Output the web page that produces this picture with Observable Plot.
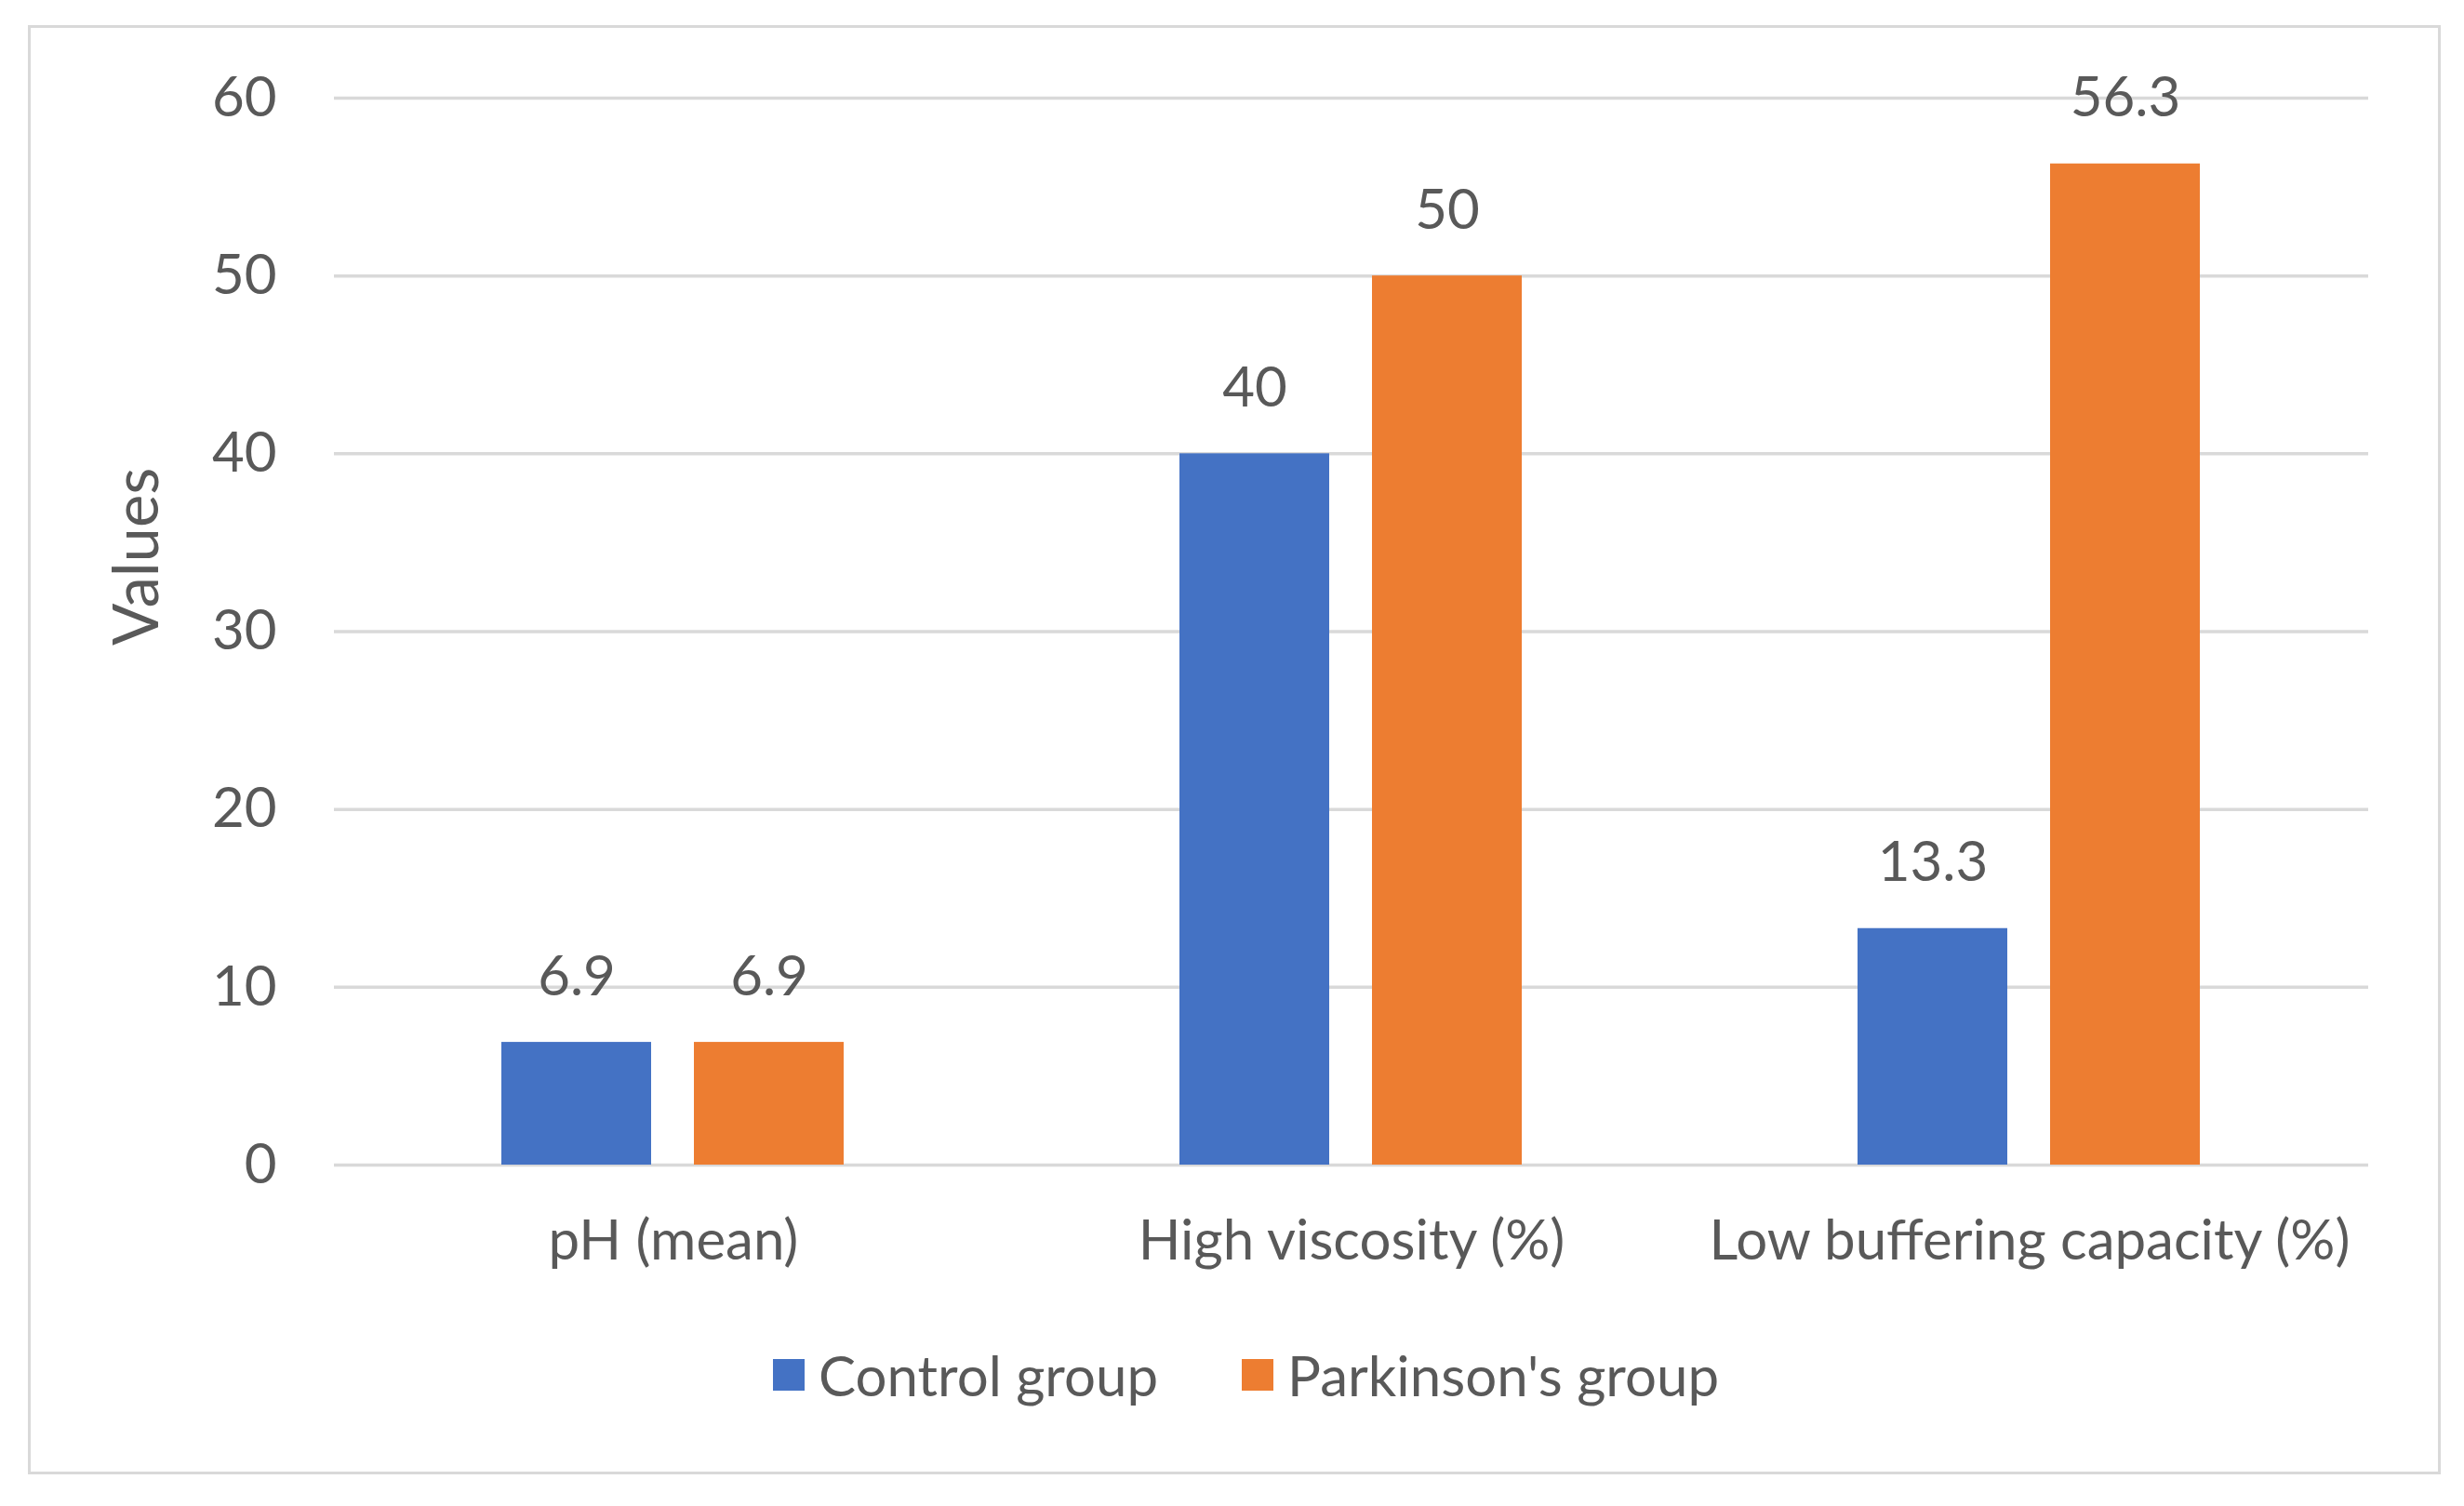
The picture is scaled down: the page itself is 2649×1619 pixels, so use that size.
<!DOCTYPE html>
<html>
<head>
<meta charset="utf-8">
<script src="https://cdn.jsdelivr.net/npm/d3@7"></script>
<script src="https://cdn.jsdelivr.net/npm/@observablehq/plot@0.6"></script>
<style>
  html, body { margin: 0; padding: 0; background: #ffffff; }
  body { font-family: Lato, "Open Sans", sans-serif; color: #595959; }
  #wrap { position: relative; width: 2649px; height: 1619px; }
  #frame { position: absolute; left: 30px; top: 27px; width: 2594px; height: 1558px;
           box-sizing: border-box; border: 3px solid #d9d9d9; pointer-events: none; }
  #chart svg { display: block; }
  #legend { display: flex; justify-content: center; align-items: center; height: 60px;
            margin-top: 48px; font-size: 60px; padding-left: 30px; }
  .item { display: flex; align-items: center; }
  .sw { width: 34px; height: 34px; margin-right: 15px; }
  .gap { width: 90px; }
</style>
</head>
<body>
<div id="wrap">
  <div id="chart"></div>
  <div id="legend"></div>
  <div id="frame"></div>
</div>
<script>
const categories = ["pH (mean)", "High viscosity (%)", "Low buffering capacity (%)"];
const groups = ["Control group", "Parkinson's group"];
const controlValues = [6.9, 40, 13.3];
const parkinsonValues = [6.9, 50, 56.3];
const yTicks = [0, 10, 20, 30, 40, 50, 60];
const colors = ["#4472C4", "#ED7D31"];
const yTitle = "Values";

const data = categories.flatMap((c, i) => [
  {category: c, group: groups[0], value: controlValues[i]},
  {category: c, group: groups[1], value: parkinsonValues[i]}
]);

const chart = Plot.plot({
  width: 2649,
  height: 1400,
  marginLeft: 358,
  marginRight: 103,
  marginTop: 105,
  marginBottom: 148,
  style: {fontFamily: "Lato, 'Open Sans', sans-serif", fontSize: "60px", color: "#595959", background: "transparent"},
  fx: {domain: categories, padding: 0, label: null, axis: "bottom", tickSize: 0, tickPadding: 59},
  x: {domain: groups, paddingInner: 0.221, paddingOuter: 0.863, axis: null},
  y: {domain: [0, 60], ticks: yTicks, label: null, axis: "left", tickSize: 0, tickPadding: 62},
  color: {domain: groups, range: colors},
  marks: [
    Plot.ruleY(yTicks, {stroke: "#d9d9d9", strokeWidth: 3.5}),
    Plot.barY(data, {fx: "category", x: "group", y: "value", fill: "group"}),
    Plot.text(data, {fx: "category", x: "group", y: "value", text: d => String(d.value),
      dy: -70, fill: "#595959", fontSize: 60}),
    Plot.text([{category: categories[0], label: yTitle}], {fx: "category", text: "label",
      frameAnchor: "left", dx: -211, dy: 15, rotate: -90, fill: "#595959", fontSize: 67})
  ]
});
document.getElementById("chart").appendChild(chart);

const legend = document.getElementById("legend");
groups.forEach((g, i) => {
  if (i > 0) { const gap = document.createElement("div"); gap.className = "gap"; legend.appendChild(gap); }
  const item = document.createElement("div"); item.className = "item";
  const sw = document.createElement("div"); sw.className = "sw"; sw.style.background = colors[i];
  const lab = document.createElement("span"); lab.textContent = g;
  item.appendChild(sw); item.appendChild(lab); legend.appendChild(item);
});
</script>
</body>
</html>
